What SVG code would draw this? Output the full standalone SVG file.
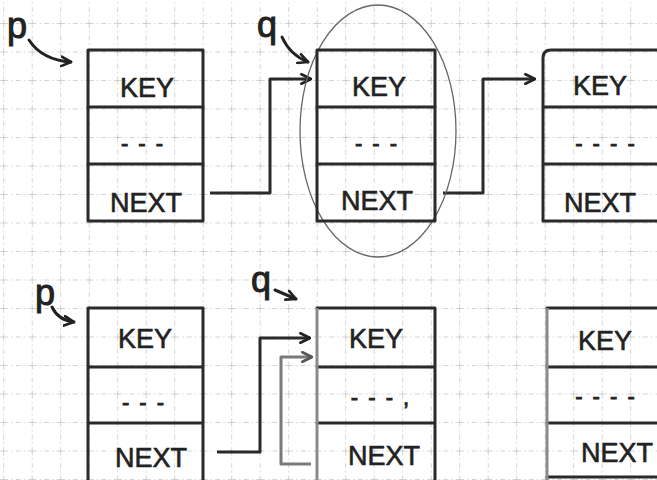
<svg xmlns="http://www.w3.org/2000/svg" width="657" height="480" viewBox="0 0 657 480">
<style>
.box{fill:none;stroke:#2a2a2a;stroke-width:3;stroke-linecap:round;stroke-linejoin:round}
.boxg{fill:none;stroke:#8a8a8a;stroke-width:3}
.t{font-family:"Liberation Sans",Arial,sans-serif;font-size:27px;fill:#222;stroke:#222;stroke-width:0.6;text-anchor:middle}
.d{font-family:"Liberation Sans",Arial,sans-serif;font-size:22px;fill:#222;stroke:#222;stroke-width:0.8;text-anchor:middle;letter-spacing:2px}
.lab{font-family:"Liberation Sans",Arial,sans-serif;font-size:36px;fill:#222;stroke:#222;stroke-width:1}
.c{fill:none;stroke:#2a2a2a;stroke-width:3;stroke-linejoin:round}
.cg{fill:none;stroke:#7a7a7a;stroke-width:3;stroke-linejoin:round}
.ptr{fill:none;stroke:#222;stroke-width:3;stroke-linecap:round}
</style>
<defs>
<pattern id="grid" x="3.2" y="-5.5" width="28.5" height="28.5" patternUnits="userSpaceOnUse">
<path d="M0 0H28.5M0 0V28.5" fill="none" stroke="#a8a8a8" stroke-width="1" stroke-dasharray="5 3 1.5 3"/>
</pattern>
<marker id="ah" viewBox="0 0 10 10" refX="9" refY="5" markerWidth="12" markerHeight="12" markerUnits="userSpaceOnUse" orient="auto">
<path d="M1,1 L9,5 L1,9" fill="none" stroke="#222" stroke-width="2.2" stroke-linecap="round" stroke-linejoin="round"/>
</marker>
<marker id="ahg" viewBox="0 0 10 10" refX="9" refY="5" markerWidth="12" markerHeight="12" markerUnits="userSpaceOnUse" orient="auto">
<path d="M1,1 L9,5 L1,9" fill="none" stroke="#555" stroke-width="2.2" stroke-linecap="round" stroke-linejoin="round"/>
</marker>
</defs>
<rect width="657" height="480" fill="#fff"/>
<rect width="657" height="480" fill="url(#grid)"/>

<g id="connectors">
<path class="c" d="M210,193 H270 V79 H311" marker-end="url(#ah)"/>
<path class="c" d="M443,193 H483 V79 H535" marker-end="url(#ah)"/>
<path class="c" d="M217,452 H260 V338 H310" marker-end="url(#ah)"/>
<path class="cg" d="M311,464 H281 V357 H312" marker-end="url(#ahg)"/>
<path class="ptr" d="M29,40 Q42,60 71,62" marker-end="url(#ah)"/>
<path class="ptr" d="M282,37 Q290,55 308,62" marker-end="url(#ah)"/>
<path class="ptr" d="M52,307 Q58,320 74,322" marker-end="url(#ah)"/>
<path class="ptr" d="M275,290 L296,299" marker-end="url(#ah)"/>
<ellipse cx="378" cy="131" rx="78" ry="126" fill="none" stroke="#666" stroke-width="1.3"/>
</g>

<g id="label-p-top"><text class="lab" x="7" y="38">p</text></g>
<g id="label-q-top"><text class="lab" x="257" y="37">q</text></g>
<g id="label-p-bottom"><text class="lab" x="35" y="305">p</text></g>
<g id="label-q-bottom"><text class="lab" x="251" y="292">q</text></g>

<g id="node-top-1">
<rect class="box" x="88" y="50" width="115" height="171"/>
<path class="box" d="M88,107H203M88,164H203"/>
<text class="t" x="147" y="97">KEY</text>
<text class="d" x="143" y="151">- - -</text>
<text class="t" x="146" y="212">NEXT</text>
</g>
<g id="node-top-2">
<rect class="box" x="317" y="50" width="118" height="171"/>
<path class="box" d="M317,107H435M317,164H435"/>
<text class="t" x="379" y="96">KEY</text>
<text class="d" x="377" y="151">- - -</text>
<text class="t" x="377" y="210">NEXT</text>
</g>
<g id="node-top-3">
<path class="box" d="M543,221 V58 Q543,50 551,50 H660 M543,107H660M543,164H660M543,221H660"/>
<text class="t" x="600" y="95">KEY</text>
<text class="d" x="606" y="151">- - - -</text>
<text class="t" x="600" y="212">NEXT</text>
</g>

<g id="node-bottom-1">
<path class="box" d="M88,482 V308 H203 V482 M88,367H203M88,423H203"/>
<text class="t" x="145" y="348">KEY</text>
<text class="d" x="144" y="410">- - -</text>
<text class="t" x="151" y="467">NEXT</text>
</g>
<g id="node-bottom-2">
<path class="box" d="M435,482 V308 H317 M317,367H435M317,423H435"/>
<path class="boxg" d="M317,308 V482"/>
<text class="t" x="376" y="348">KEY</text>
<text class="d" x="381" y="405">- - - ,</text>
<text class="t" x="384" y="465">NEXT</text>
</g>
<g id="node-bottom-3">
<path class="box" d="M547,308 H660 M547,367H660M547,423H660M547,477H660"/>
<path class="boxg" d="M547,308 V480"/>
<text class="t" x="605" y="350">KEY</text>
<text class="d" x="606" y="404">- - - -</text>
<text class="t" x="617" y="462">NEXT</text>
</g>
</svg>
